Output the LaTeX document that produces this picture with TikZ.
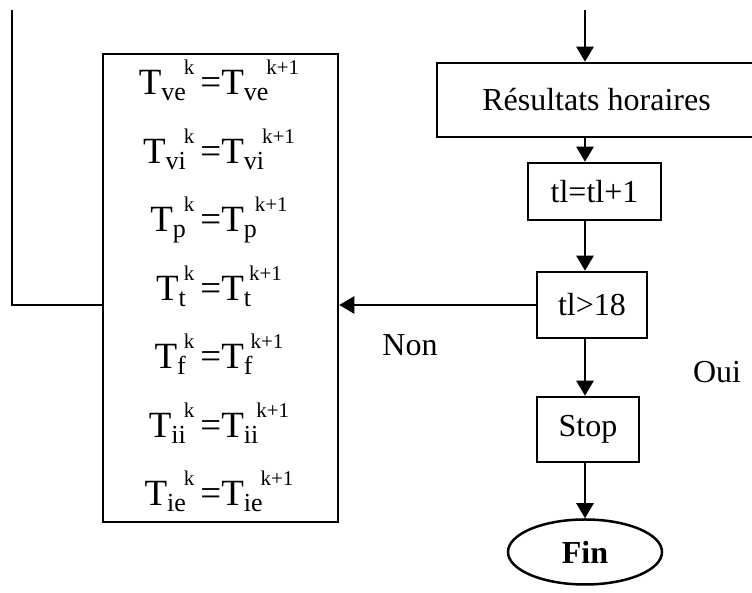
\documentclass[tikz,border=0pt]{standalone}
\usepackage{fontspec}
\setmainfont{Liberation Serif}
\usetikzlibrary{arrows.meta,shapes.geometric}

\newcommand{\indb}[1]{\raisebox{-3bp}{\fontsize{13bp}{14bp}\selectfont #1}}
\newcommand{\expo}[1]{\hspace{-1bp}\raisebox{10bp}{\fontsize{10.5bp}{11bp}\selectfont #1}}
\newcommand{\egal}[1]{T\indb{#1}\expo{k}\hspace{3bp}=T\indb{#1}\expo{k+1}}

\begin{document}
\begin{tikzpicture}[x=0.5bp, y=0.5bp, line width=1.25bp,
  >={Triangle[length=7.5bp, width=8.5bp]},
  boite/.style={draw, rectangle, inner sep=0pt},
  every node/.style={font=\fontsize{16bp}{19bp}\selectfont}]
\useasboundingbox (0,0) rectangle (752,593);

\node[boite, minimum width=117.5bp, minimum height=234bp] (maj) at (220.5,305) {};
\foreach \v [count=\i] in {ve,vi,p,t,f,ii,ie}
  \node[anchor=base, inner sep=0pt, font=\fontsize{18.5bp}{22bp}\selectfont] (eq\i) at (219,{498-(\i-1)*68.5}) {\egal{\v}};

\coordinate (haut) at (585,583);
\coordinate (depart) at (12,583);
\coordinate (retour) at (12,288);

\node[boite, minimum width=159.5bp, minimum height=37bp] (res) at (596.5,493) {Résultats horaires};
\node[boite, minimum width=66.5bp, minimum height=28.5bp] (tl1) at (594.5,401.5) {tl=tl+1};
\node[boite, minimum width=55bp, minimum height=33bp] (tl2) at (592,288) {tl>18};
\node[boite, minimum width=51bp, minimum height=32.5bp] (stop) at (588,163.5) {Stop};
\node[draw, ellipse, inner sep=0pt, minimum width=77bp, minimum height=32.5bp] (fin) at (585,41) {\textbf{Fin}};

\node (non) at (410,248) {Non};
\node (oui) at (717,221) {Oui};

\draw[->] (haut) -- (haut |- res.north);
\draw[->] (haut |- res.south) -- (haut |- tl1.north);
\draw[->] (haut |- tl1.south) -- (haut |- tl2.north);
\draw[->] (tl2.west) -- (tl2.west -| maj.east);
\draw[->] (haut |- tl2.south) -- (haut |- stop.north);
\draw[->] (haut |- stop.south) -- (haut |- fin.north);

\draw (depart) -- (retour) -- (retour -| maj.west);

\end{tikzpicture}
\end{document}
